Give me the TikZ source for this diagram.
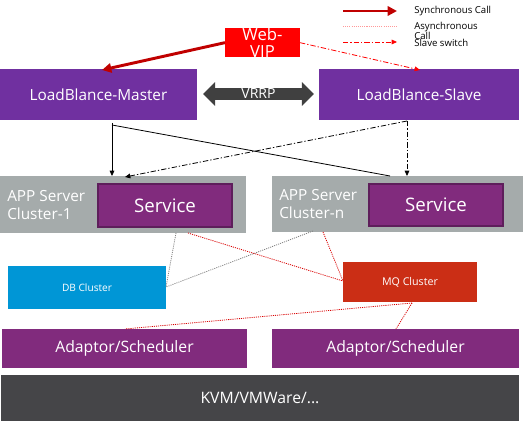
\documentclass[tikz,border=0pt]{standalone}
\usepackage{fontspec}
\setmainfont{Open Sans}
\usetikzlibrary{arrows.meta,shapes.arrows,calc}
\definecolor{lbpurple}{HTML}{7030A0}
\definecolor{svpurple}{HTML}{812B7D}
\definecolor{svborder}{HTML}{5E1E5B}
\definecolor{clgray}{HTML}{A5ABAB}
\definecolor{dbblue}{HTML}{0096D6}
\definecolor{mqred}{HTML}{CB2E15}
\definecolor{kvmgray}{HTML}{454548}
\definecolor{vrrpgray}{HTML}{404040}
\definecolor{syncred}{HTML}{C00000}
\begin{document}
\begin{tikzpicture}[x=0.75pt,y=-0.75pt,
  blk/.style 2 args={anchor=north west, inner sep=0pt, outer sep=0pt, text=white, align=center,
     minimum width=#1*0.75pt, minimum height=#2*0.75pt},
  lbl/.style={text=white, inner sep=0pt, align=left},
  sync/.style={syncred, line width=2.2pt, -{Triangle[length=7pt,width=7pt]}},
  slavesw/.style={red, line width=0.6pt, dash pattern=on 4pt off 1.5pt on 1pt off 1.5pt, -{Triangle[length=4pt,width=3.5pt]}},
  slaveblk/.style={black, line width=0.6pt, dash pattern=on 4pt off 1.5pt on 1pt off 1.5pt, -{Triangle[length=4pt,width=3.5pt]}},
  call/.style={black, line width=0.6pt, -{Triangle[length=4pt,width=3.5pt]}},
  asyncred/.style={red!85!black, line width=0.6pt, dash pattern=on 0.8pt off 0.8pt},
  asyncgray/.style={gray, line width=0.6pt, dash pattern=on 0.8pt off 0.8pt},
  legend/.style={anchor=west, inner sep=0pt, font=\fontsize{7.2}{7.2}\selectfont, align=left}
]
\useasboundingbox (0,0) rectangle (526,424);

% legend
\coordinate (l1a) at (343,11); \coordinate (l1b) at (397,11);
\coordinate (l2a) at (343,26); \coordinate (l2b) at (397,26);
\coordinate (l3a) at (343,42); \coordinate (l3b) at (397,42);
\draw[sync] (l1a) -- (l1b);
\draw[red!40, line width=0.7pt, dash pattern=on 0.8pt off 0.8pt] (l2a) -- (l2b);
\draw[slavesw] (l3a) -- (l3b);
\node[legend] (t1) at (414,11) {Synchronous Call};
\node[legend] (t2) at (414,31) {Asynchronous\\Call};
\node[legend] (t3) at (414,43) {Slave switch};

% top boxes
\node[blk={75}{26}, fill=red, font=\fontsize{12.5}{12.5}\selectfont] (vip) at (225,28) {Web-\\VIP};
\node[blk={197}{51}, fill=lbpurple, font=\fontsize{11.5}{13}\selectfont] (master) at (0,69) {LoadBlance-Master};
\node[blk={200}{51}, fill=lbpurple, font=\fontsize{11.5}{13}\selectfont] (slave) at (319,69) {LoadBlance-Slave};

% VRRP arrow
\node[double arrow, fill=vrrpgray, inner xsep=2pt, inner ysep=0.5pt, minimum height=83pt,
      double arrow head extend=4.5pt, double arrow head indent=0pt, text=white,
      font=\fontsize{10.5}{10.5}\selectfont] (vrrp) at (258.5,94) {VRRP};

% app server clusters
\node[blk={246}{57}, fill=clgray] (c1) at (0,176) {};
\node[blk={134}{43}, fill=svpurple, draw=svborder, line width=1.2pt, font=\fontsize{14}{16}\selectfont] (s1) at (98,184) {Service};
\node[lbl, anchor=west, font=\fontsize{11.5}{13.5}\selectfont] (c1t) at (7,205) {APP Server\\Cluster-1};
\node[blk={251}{56}, fill=clgray] (cn) at (272,176) {};
\node[blk={134}{42}, fill=svpurple, draw=svborder, line width=1.2pt, font=\fontsize{14}{16}\selectfont] (sn) at (369,184) {Service};
\node[lbl, anchor=west, font=\fontsize{11.5}{13.5}\selectfont] (cnt) at (279,204) {APP Server\\Cluster-n};

% db / mq
\node[blk={158}{43}, fill=dbblue, font=\fontsize{7.6}{8}\selectfont] (db) at (8,266) {DB Cluster};
\node[blk={134}{40}, fill=mqred, font=\fontsize{8}{8}\selectfont] (mq) at (343,262) {MQ Cluster};

% adaptors and kvm
\node[blk={245}{39}, fill=svpurple, font=\fontsize{11.8}{13}\selectfont] (a1) at (2,329) {Adaptor/Scheduler};
\node[blk={247}{39}, fill=svpurple, font=\fontsize{11.8}{13}\selectfont] (a2) at (272,329) {Adaptor/Scheduler};
\node[blk={518}{46}, fill=kvmgray, font=\fontsize{11.8}{13}\selectfont] (kvm) at (1,375) {KVM/VMWare/...};

% connectors
\draw[sync] (vip.west) -- ($(master.north west)+(102,1)$);
\draw[slavesw] (vip.east) -- ($(slave.north west)+(101,1)$);

\draw[call] ($(master.south west)+(112,3)$) -- ($(c1.north west)+(112,0)$);
\draw[black, line width=0.6pt] ($(master.south west)+(112,5)$) -- ($(cn.north west)+(118,0)$);
\draw[slaveblk] ($(slave.south west)+(88,1)$) -- ($(c1.north west)+(125,1)$);
\draw[slaveblk] ($(slave.south west)+(88,1)$) -- ($(cn.north west)+(135,0)$);

\draw[asyncgray] ($(c1.south west)+(176,0)$) -- ($(db.north east)+(0,21)$);
\draw[asyncgray] ($(cn.south west)+(41,-1)$) -- ($(db.north east)+(0,21)$);
\draw[asyncred] ($(c1.south west)+(188,0)$) -- ($(mq.north west)+(0,19)$);
\draw[asyncred] ($(cn.south west)+(51,0)$) -- ($(mq.north west)+(0,19)$);
\draw[asyncred] ($(mq.south west)+(69,1)$) -- ($(a1.north west)+(123,0)$);
\draw[asyncred] ($(mq.south west)+(69,1)$) -- ($(a2.north west)+(124,0)$);
\end{tikzpicture}
\end{document}
